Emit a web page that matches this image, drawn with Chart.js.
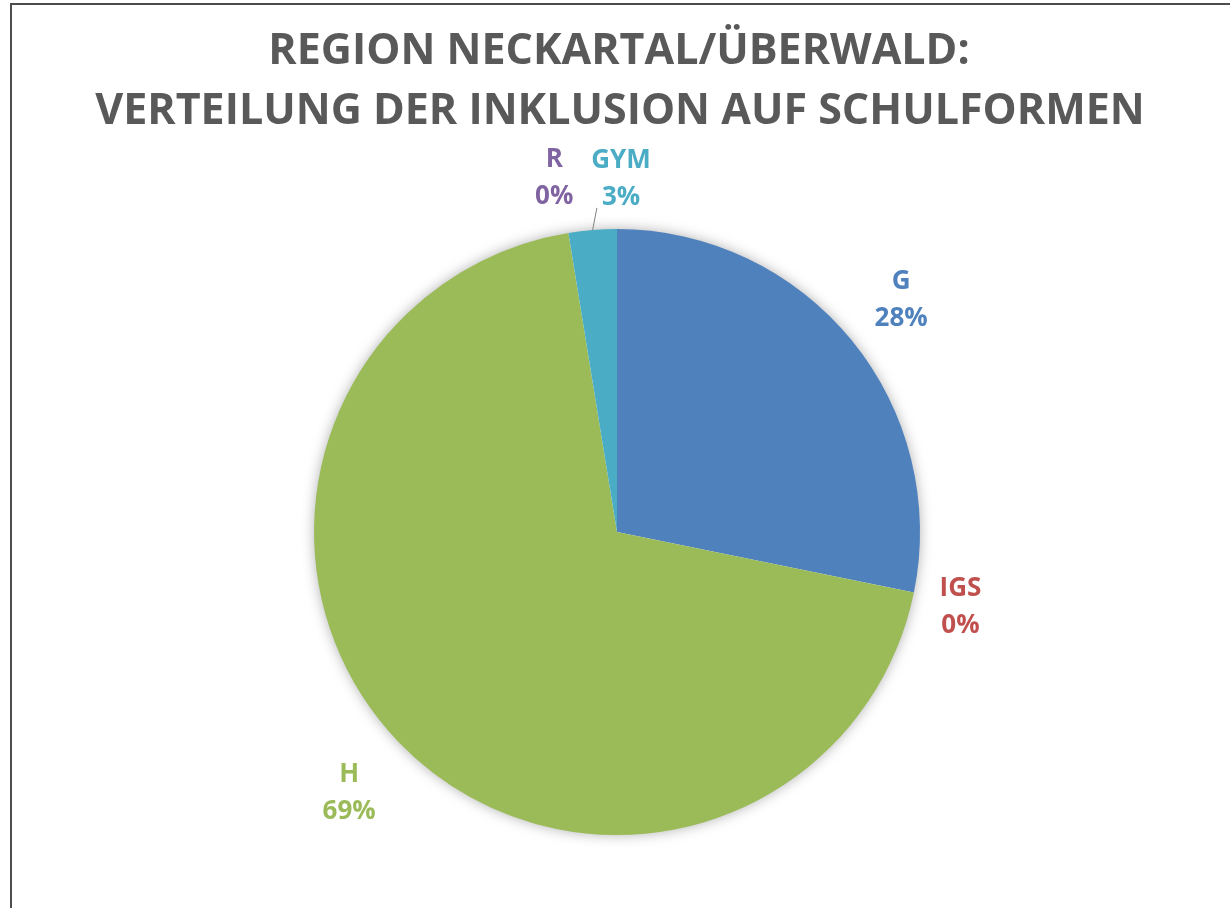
<!DOCTYPE html>
<html lang="de">
<head>
<meta charset="utf-8">
<title>Region Neckartal/Überwald</title>
<script src="https://cdn.jsdelivr.net/npm/chart.js@4.4.1/dist/chart.umd.min.js"></script>
<style>
    html, body { margin: 0; padding: 0; background: #fff; }
    #wrap { position: relative; width: 1230px; height: 908px; overflow: hidden; }
    #frame {
        position: absolute; left: 10px; top: 3px; right: -5px; bottom: -5px;
        border-left: 2px solid #4d4d4d; border-top: 2px solid #4d4d4d;
        pointer-events: none;
    }
    canvas { position: absolute; left: 0; top: 0; }
</style>
</head>
<body>
<div id="wrap">
    <canvas id="pie" width="1230" height="908"></canvas>
    <div id="frame"></div>
</div>
<script>
const titleLines = ['REGION NECKARTAL/ÜBERWALD:', 'VERTEILUNG DER INKLUSION AUF SCHULFORMEN'];
const categories = ['G', 'IGS', 'H', 'R', 'GYM'];
const counts = [11, 0, 27, 0, 1];
const sliceColors = ['#4F81BD', '#C0504D', '#9BBB59', '#8064A2', '#4BACC6'];

const total = counts.reduce((a, b) => a + b, 0);

// title drawn on top of the padded area
const titlePlugin = {
    id: 'titleText',
    afterDraw(chart) {
        const ctx = chart.ctx;
        ctx.save();
        ctx.fillStyle = '#595959';
        ctx.font = 'bold 43px "Open Sans"';
        ctx.textAlign = 'center';
        ctx.textBaseline = 'middle';
        ctx.fillText(titleLines[0], 619, 52);
        ctx.fillText(titleLines[1], 620, 112);
        ctx.restore();
    }
};

// soft shadow behind the pie
const shadowPlugin = {
    id: 'pieShadow',
    beforeDatasetsDraw(chart) {
        const arc = chart.getDatasetMeta(0).data[0];
        if (!arc) return;
        const ctx = chart.ctx;
        ctx.save();
        ctx.shadowColor = 'rgba(0,0,0,0.35)';
        ctx.shadowBlur = 14;
        ctx.fillStyle = '#fff';
        ctx.beginPath();
        ctx.arc(arc.x, arc.y, arc.outerRadius - 1, 0, Math.PI * 2);
        ctx.fill();
        ctx.restore();
    }
};

// Excel-style outside labels: name + percent
const labelPlugin = {
    id: 'outsideLabels',
    afterDatasetsDraw(chart, args, opts) {
        const ctx = chart.ctx;
        const meta = chart.getDatasetMeta(0);
        const lineH = 37;
        ctx.save();
        ctx.font = 'bold 26px "Open Sans"';
        ctx.textAlign = 'center';
        ctx.textBaseline = 'middle';
        meta.data.forEach((arc, i) => {
            const { x, y, startAngle, endAngle, outerRadius } = arc.getProps(['x', 'y', 'startAngle', 'endAngle', 'outerRadius'], true);
            const mid = (startAngle + endAngle) / 2;
            const dx = Math.cos(mid), dy = Math.sin(mid);
            const pct = Math.round(counts[i] / total * 100) + '%';
            const w = Math.max(ctx.measureText(categories[i]).width, ctx.measureText(pct).width);
            const h = lineH + 24;
            const ext = Math.abs(dx) * w / 2 + Math.abs(dy) * h / 2;
            const d = outerRadius + opts.gap + ext;
            const nudge = opts.nudge[i] || [0, 0];
            const cx = x + dx * d + nudge[0];
            const cy = y + dy * d + nudge[1];
            ctx.fillStyle = sliceColors[i];
            ctx.fillText(categories[i], cx, cy - lineH / 2);
            ctx.fillText(pct, cx, cy + lineH / 2);
            // leader line only where the label was pushed aside
            if (opts.leader.includes(i)) {
                const pw = ctx.measureText(pct).width;
                ctx.strokeStyle = '#808080';
                ctx.lineWidth = 1;
                ctx.beginPath();
                ctx.moveTo(cx - pw / 2 - 5, cy + h / 2 - 2);
                ctx.lineTo(x + dx * outerRadius, y + dy * outerRadius);
                ctx.stroke();
            }
        });
        ctx.restore();
    }
};

new Chart(document.getElementById('pie'), {
    type: 'pie',
    data: {
        labels: categories,
        datasets: [{
            data: counts,
            backgroundColor: sliceColors,
            borderWidth: 0
        }]
    },
    options: {
        responsive: false,
        animation: false,
        layout: { padding: { top: 229, bottom: 73, left: 314, right: 310 } },
        plugins: {
            legend: { display: false },
            tooltip: { enabled: false },
            title: { display: false },
            outsideLabels: {
                gap: 24,
                nudge: { 1: [-3, 4], 2: [-3, 7], 3: [-5, 2], 4: [33, 6] },
                leader: [4]
            }
        }
    },
    plugins: [shadowPlugin, labelPlugin, titlePlugin]
});
</script>
</body>
</html>
